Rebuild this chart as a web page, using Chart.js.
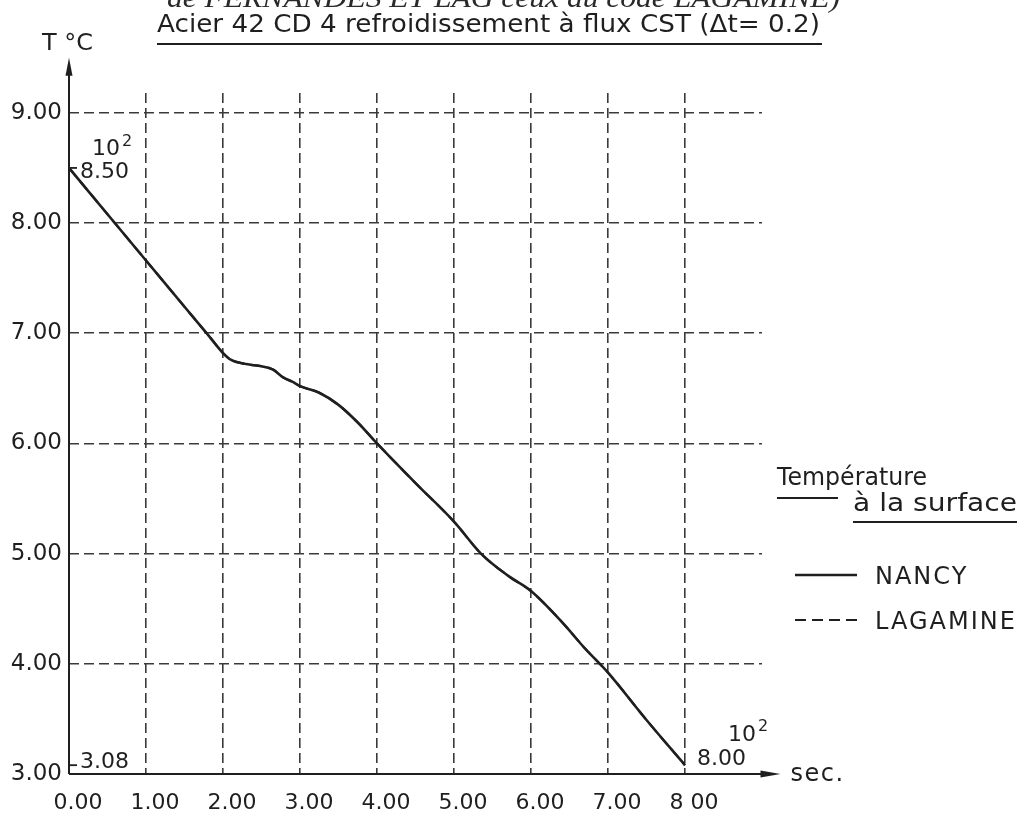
<!DOCTYPE html>
<html>
<head>
<meta charset="utf-8">
<title>Acier 42 CD 4 – refroidissement à flux CST</title>
<script src="https://cdn.jsdelivr.net/npm/chart.js@4.4.1/dist/chart.umd.min.js"></script>
<style>
  html, body { margin: 0; padding: 0; background: #ffffff; overflow: hidden; }
  canvas { display: block; }
</style>
</head>
<body>
<canvas id="chart" width="1025" height="817"></canvas>
<script>
// Axis ticks and their printed labels
const timeTicks = [0, 1, 2, 3, 4, 5, 6, 7, 8];
const timeTickLabels = ['0.00', '1.00', '2.00', '3.00', '4.00', '5.00', '6.00', '7.00', '8 00'];
const tempTicks = [3, 4, 5, 6, 7, 8, 9];
const tempTickLabels = ['3.00', '4.00', '5.00', '6.00', '7.00', '8.00', '9.00'];

// Surface temperature (x 10^2 °C) against time (x 10^2 s)
const times = [0, 0.5, 1.0, 1.5, 1.8, 2.0, 2.1, 2.3, 2.5, 2.65, 2.78, 2.9, 3.0, 3.25, 3.5,
               3.75, 4.0, 4.5, 5.0, 5.35, 5.7, 6.0, 6.4, 6.7, 7.0, 7.5, 8.0];
const nancyTemps = [8.50, 8.08, 7.66, 7.24, 6.99, 6.82, 6.76, 6.72, 6.70, 6.67, 6.60, 6.56, 6.52, 6.46, 6.35,
                    6.19, 6.00, 5.64, 5.29, 5.00, 4.80, 4.66, 4.38, 4.14, 3.92, 3.49, 3.08];
const lagamineTemps = [8.50, 8.08, 7.66, 7.24, 6.99, 6.82, 6.76, 6.72, 6.70, 6.67, 6.60, 6.56, 6.52, 6.46, 6.35,
                       6.19, 6.00, 5.64, 5.29, 5.00, 4.80, 4.66, 4.38, 4.14, 3.92, 3.49, 3.08];

const seriesNames = ['NANCY', 'LAGAMINE'];
const headerLine = 'de FERNANDES ET LAG ceux du code LAGAMINE)';
const titleText = 'Acier 42 CD 4 refroidissement à flux CST (Δt= 0.2)';
const yUnit = 'T °C';
const xUnit = 'sec.';
const scaleFactor = '10';
const scaleExp = '2';
const legendHeading = ['Température', 'à la surface'];

const INK = '#1f1f1f';
const GRID = '#3a3a3a';
const SANS = '"DejaVu Sans", "Liberation Sans", sans-serif';

function toPoints(xs, ys) { return xs.map((x, i) => ({ x: x, y: ys[i] })); }

// Draw a string so that it spans a given width
function fitText(ctx, text, x, y, width, font) {
  ctx.save();
  ctx.font = font;
  ctx.textAlign = 'left';
  ctx.textBaseline = 'alphabetic';
  const w = ctx.measureText(text).width;
  ctx.translate(x, y);
  ctx.scale(width / w, 1);
  ctx.fillText(text, 0, 0);
  ctx.restore();
}

function plainText(ctx, text, x, y, font, spacing) {
  ctx.save();
  ctx.font = font;
  ctx.textAlign = 'left';
  ctx.textBaseline = 'alphabetic';
  ctx.letterSpacing = (spacing || 0) + 'px';
  ctx.fillText(text, x, y);
  ctx.restore();
}

function hLine(ctx, x1, x2, y, width, dash) {
  ctx.save();
  ctx.strokeStyle = INK;
  ctx.lineWidth = width;
  ctx.setLineDash(dash || []);
  ctx.beginPath();
  ctx.moveTo(x1, y);
  ctx.lineTo(x2, y);
  ctx.stroke();
  ctx.restore();
}

// Axes with arrows, value annotations, titles and the legend block
const decorations = {
  id: 'decorations',
  afterDraw(chart) {
    const ctx = chart.ctx;
    const xs = chart.scales.x, ys = chart.scales.y;
    const x0 = xs.getPixelForValue(0);
    const y0 = ys.getPixelForValue(3);
    ctx.save();
    ctx.fillStyle = INK;
    ctx.strokeStyle = INK;

    // Temperature axis with arrow
    const yTip = ys.getPixelForValue(9.5);
    ctx.lineWidth = 2;
    ctx.beginPath();
    ctx.moveTo(x0, y0);
    ctx.lineTo(x0, yTip + 14);
    ctx.stroke();
    ctx.beginPath();
    ctx.moveTo(x0, yTip);
    ctx.lineTo(x0 - 3.5, yTip + 18);
    ctx.lineTo(x0 + 3.5, yTip + 18);
    ctx.closePath();
    ctx.fill();

    // Time axis with arrow
    const xTip = xs.getPixelForValue(9.24);
    ctx.beginPath();
    ctx.moveTo(x0, y0);
    ctx.lineTo(xTip - 14, y0);
    ctx.stroke();
    ctx.beginPath();
    ctx.moveTo(xTip, y0);
    ctx.lineTo(xTip - 20, y0 - 3.5);
    ctx.lineTo(xTip - 20, y0 + 3.5);
    ctx.closePath();
    ctx.fill();

    plainText(ctx, xUnit, xTip + 10, y0 + 7, '24px ' + SANS, 1.5);
    fitText(ctx, yUnit, 42, 50, 51, '23px ' + SANS);

    // Start and end values of the curve
    const pts = chart.data.datasets[0].data;
    const first = pts[0];
    const last = pts[pts.length - 1];
    const pStart = { x: xs.getPixelForValue(first.x), y: ys.getPixelForValue(first.y) };
    const pEnd = { x: xs.getPixelForValue(last.x), y: ys.getPixelForValue(last.y) };

    hLine(ctx, x0, x0 + 8, pStart.y, 1.8);
    plainText(ctx, scaleFactor, pStart.x + 23, pStart.y - 13, '22px ' + SANS);
    plainText(ctx, scaleExp, pStart.x + 53, pStart.y - 22, '16px ' + SANS);
    plainText(ctx, first.y.toFixed(2), pStart.x + 11, pStart.y + 10, '22px ' + SANS);

    const yLow = ys.getPixelForValue(last.y);
    hLine(ctx, x0, x0 + 8, yLow, 1.8);
    plainText(ctx, last.y.toFixed(2), x0 + 11, yLow + 3, '22px ' + SANS);

    plainText(ctx, scaleFactor, pEnd.x + 43, pEnd.y - 24, '22px ' + SANS);
    plainText(ctx, scaleExp, pEnd.x + 73, pEnd.y - 34, '16px ' + SANS);
    plainText(ctx, last.x.toFixed(2), pEnd.x + 12, pEnd.y + 0, '22px ' + SANS);

    // Titles
    ctx.fillStyle = '#2a2a2a';
    fitText(ctx, headerLine, 167, 7, 673, 'italic 28px "Liberation Serif", serif');
    ctx.fillStyle = INK;
    fitText(ctx, titleText, 157, 32, 663, '25px ' + SANS);
    hLine(ctx, 157, 822, 44, 2);

    // Legend
    fitText(ctx, legendHeading[0], 777, 485, 150, '24px ' + SANS);
    hLine(ctx, 777, 838, 498, 2);
    fitText(ctx, legendHeading[1], 853, 511, 164, '24px ' + SANS);
    hLine(ctx, 853, 1017, 522, 2);

    chart.data.datasets.forEach((ds, i) => {
      const cy = 575 + i * 45;
      hLine(ctx, 795, 857, cy, ds.borderWidth, ds.borderDash);
      plainText(ctx, ds.label, 875, cy + 8.5, '24px ' + SANS, 2);
    });
    ctx.restore();
  }
};

const tickFont = { family: SANS, size: 22 };

new Chart(document.getElementById('chart'), {
  type: 'line',
  data: {
    datasets: [
      {
        label: seriesNames[0],
        data: toPoints(times, nancyTemps),
        borderColor: INK,
        borderWidth: 2.6,
        borderDash: [],
        pointRadius: 0,
        fill: false,
        cubicInterpolationMode: 'monotone'
      },
      {
        label: seriesNames[1],
        data: toPoints(times, lagamineTemps),
        borderColor: INK,
        borderWidth: 2.2,
        borderDash: [11, 6],
        pointRadius: 0,
        fill: false,
        cubicInterpolationMode: 'monotone'
      }
    ]
  },
  options: {
    responsive: false,
    animation: false,
    devicePixelRatio: 1,
    layout: { padding: { left: 0, top: 93, right: 263, bottom: 0 } },
    plugins: { legend: { display: false }, tooltip: { enabled: false }, title: { display: false } },
    scales: {
      x: {
        type: 'linear',
        min: 0,
        max: 9,
        bounds: 'data',
        afterBuildTicks: (s) => { s.ticks = timeTicks.map(v => ({ value: v })); },
        afterFit: (s) => { s.height = 43; },
        grid: { color: GRID, lineWidth: 1.6, drawTicks: false },
        border: { display: false, dash: [10, 5] },
        ticks: {
          font: tickFont,
          color: INK,
          padding: 16,
          labelOffset: 9,
          maxRotation: 0,
          autoSkip: false,
          callback: (v, i) => timeTickLabels[i]
        }
      },
      y: {
        type: 'linear',
        min: 3,
        max: 9.18,
        bounds: 'data',
        afterBuildTicks: (s) => { s.ticks = tempTicks.map(v => ({ value: v })); },
        afterFit: (s) => { s.width = 69; },
        grid: { color: GRID, lineWidth: 1.6, drawTicks: false },
        border: { display: false, dash: [10, 5] },
        ticks: {
          font: { family: SANS, size: 23 },
          color: INK,
          padding: 7,
          autoSkip: false,
          callback: (v, i) => tempTickLabels[i]
        }
      }
    }
  },
  plugins: [decorations]
});
</script>
</body>
</html>
